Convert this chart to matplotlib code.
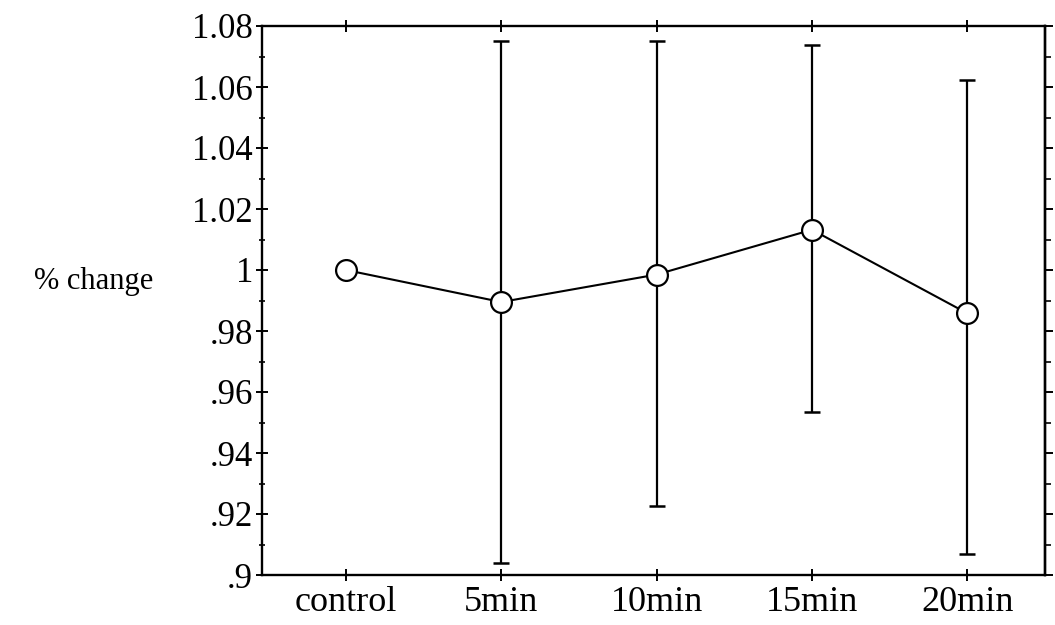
import matplotlib
matplotlib.use("Agg")
import matplotlib.pyplot as plt
from matplotlib.ticker import MultipleLocator, FixedLocator, NullFormatter

# Relative change at each time point with spread
categories = ["control", "5min", "10min", "15min", "20min"]
means = [1.000, 0.9895, 0.9985, 1.0132, 0.9858]
upper = [1.000, 1.0751, 1.0751, 1.0738, 1.0623]
lower = [1.000, 0.9040, 0.9226, 0.9534, 0.9069]
has_bar = [False, True, True, True, True]

ytick_values = [0.90, 0.92, 0.94, 0.96, 0.98, 1.00, 1.02, 1.04, 1.06, 1.08]
ytick_labels = [".9", ".92", ".94", ".96", ".98", "1", "1.02", "1.04", "1.06", "1.08"]

plt.rcParams["font.family"] = ["Liberation Serif", "DejaVu Serif"]

fig = plt.figure(figsize=(10.55, 6.25), dpi=100)
ax = fig.add_axes([0.2483, 0.08, 0.7422, 0.8784])

x = list(range(len(categories)))

# Error bars for the timed measurements
for xi, m, hi, lo, show in zip(x, means, upper, lower, has_bar):
    if show:
        ax.errorbar([xi], [m], yerr=[[m - lo], [hi - m]], fmt="none",
                    ecolor="black", elinewidth=1.6, capsize=5.5, capthick=1.8,
                    zorder=2)

ax.plot(x, means, color="black", linewidth=1.5, marker="o", markersize=15,
        markerfacecolor="white", markeredgecolor="black", markeredgewidth=1.6,
        zorder=3)

ax.set_xlim(-0.54, 4.5)
ax.set_ylim(0.90, 1.08)

ax.set_xticks(x)
ax.set_xticklabels(categories, fontsize=26)
ax.yaxis.set_major_locator(FixedLocator(ytick_values))
ax.set_yticklabels(ytick_labels, fontsize=25)
ax.yaxis.set_minor_locator(MultipleLocator(0.01))

for side in ["left", "right", "top", "bottom"]:
    ax.spines[side].set_linewidth(1.7)

ax.tick_params(axis="y", which="major", direction="inout", length=9, width=1.4,
               left=True, right=False, labelleft=True, pad=2)
ax.tick_params(axis="y", which="minor", direction="inout", length=4, width=1.2,
               left=True, right=False)
ax.tick_params(axis="x", which="major", direction="inout", length=8, width=1.4,
               bottom=True, top=True, pad=4)

# Right-hand scale: outward ticks only, no labels
rax = ax.secondary_yaxis("right")
rax.yaxis.set_major_locator(FixedLocator(ytick_values))
rax.yaxis.set_major_formatter(NullFormatter())
rax.yaxis.set_minor_locator(MultipleLocator(0.01))
rax.tick_params(which="major", direction="out", length=6, width=1.4)
rax.tick_params(which="minor", direction="out", length=4, width=1.2)
rax.spines["right"].set_linewidth(1.7)

fig.text(153 / 1055, 1 - 281 / 625, "% change", fontsize=22,
         ha="right", va="center")

fig.savefig("out.png", dpi=100, facecolor="white")
